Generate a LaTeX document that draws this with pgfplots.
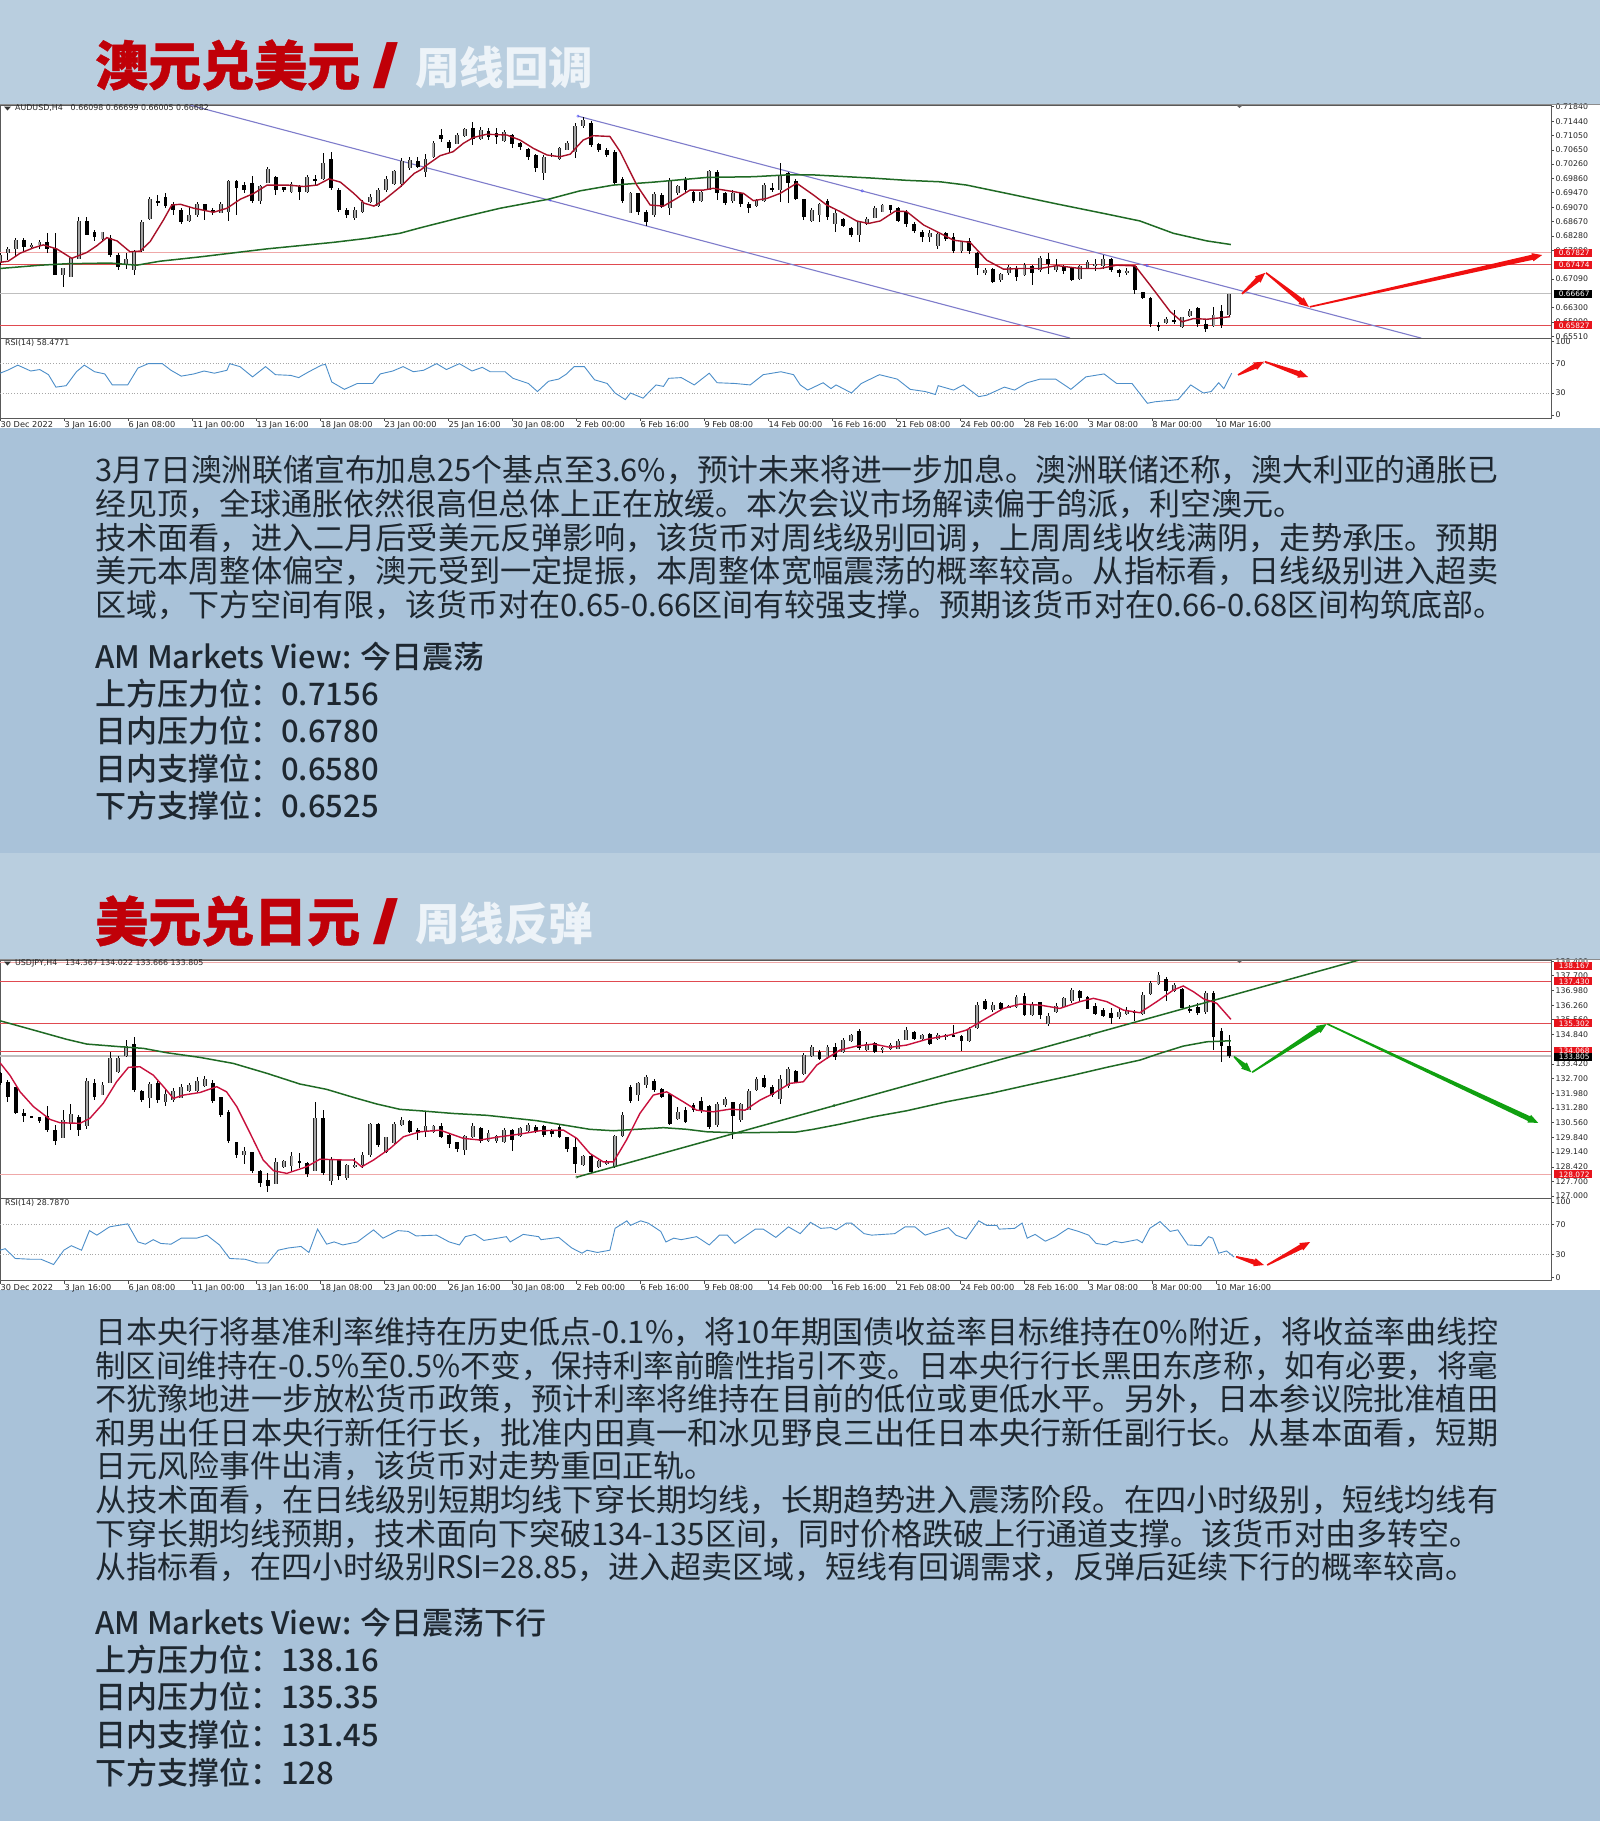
\documentclass[border=0pt]{standalone}
\usepackage{fontspec}
\usepackage{graphicx}
\usepackage{pgfplots}
\usepackage{pgfplotstable}
\pgfplotsset{compat=1.18}
\usetikzlibrary{calc}
\setmainfont{Noto Sans CJK SC}
\newfontfamily\cjkbody{Noto Sans CJK SC}
\IfFontExistsTF{Noto Sans CJK SC Medium}{\newfontfamily\cjkmed{Noto Sans CJK SC Medium}}{\newfontfamily\cjkmed[FakeBold=1.2]{Noto Sans CJK SC}}
\newfontfamily\cjkblack[BoldFeatures={FakeBold=0.8}]{Noto Sans CJK SC}
\newfontfamily\slashf{Liberation Sans}
\newfontfamily\mtfont{DejaVu Sans}
\definecolor{bandA}{HTML}{B9CEDF}
\definecolor{bandB}{HTML}{A9C2D9}
\definecolor{txt}{HTML}{1E2730}
\definecolor{titleRed}{HTML}{C00008}
\definecolor{titleWhite}{HTML}{EDF3F8}
\definecolor{trend}{HTML}{7E7CCB}
\definecolor{maA}{HTML}{A81028}
\definecolor{maB}{HTML}{C8103C}
\definecolor{maG}{HTML}{1F6A24}
\definecolor{hlA}{HTML}{EFA8A8}
\definecolor{hlB}{HTML}{E04A50}
\definecolor{rsiC}{HTML}{4C8EC9}
\definecolor{arR}{HTML}{F01010}
\definecolor{arG}{HTML}{10A010}
\definecolor{boxR}{HTML}{E8141C}

\pgfplotstableread{
i h l o c
0 6780 6749 6757 6775
2 6798 6761 6780 6793
4 6821 6770 6793 6816
6 6821 6784 6816 6797
8 6807 6793 6800 6802
10 6816 6793 6803 6812
12 6835 6780 6812 6793
14 6835 6720 6795 6720
16 6738 6686 6720 6738
18 6766 6715 6715 6766
20 6881 6764 6764 6870
22 6881 6830 6870 6830
24 6844 6815 6840 6825
26 6840 6815 6820 6838
28 6830 6770 6822 6775
30 6780 6733 6775 6742
32 6780 6738 6750 6765
34 6789 6720 6735 6785
36 6872 6784 6785 6865
38 6936 6872 6875 6930
40 6940 6910 6925 6920
42 6945 6905 6935 6910
44 6922 6885 6915 6900
46 6904 6860 6900 6865
48 6908 6867 6870 6885
50 6922 6880 6885 6915
52 6915 6872 6915 6900
54 6904 6885 6900 6895
56 6922 6890 6892 6915
58 6982 6869 6895 6980
60 6982 6885 6980 6960
62 6977 6945 6968 6955
64 6994 6918 6975 6925
66 6968 6915 6925 6965
68 7019 6977 6975 7012
70 6994 6941 6990 6955
72 6964 6948 6962 6955
74 6977 6945 6950 6970
76 6968 6927 6965 6950
78 6996 6945 6948 6990
80 6995 6968 6985 6980
82 7056 6982 6985 7030
84 7060 6954 7040 6960
86 6959 6895 6955 6900
88 6904 6876 6900 6885
90 6908 6872 6878 6900
92 6926 6890 6895 6920
94 6942 6918 6920 6935
96 6959 6908 6910 6955
98 6994 6950 6955 6985
100 7010 6968 6970 7008
102 7042 6964 6970 7035
104 7044 7010 7015 7038
106 7046 7014 7035 7018
108 7055 6991 7005 7040
110 7090 7042 7045 7085
112 7123 7088 7105 7095
114 7092 7060 7088 7070
116 7111 7080 7082 7105
118 7126 7100 7102 7122
120 7143 7078 7125 7095
122 7129 7092 7095 7120
124 7126 7092 7118 7100
126 7125 7080 7112 7100
128 7120 7088 7090 7115
130 7110 7069 7105 7080
132 7088 7065 7085 7072
134 7071 7037 7068 7045
136 7055 7005 7050 7015
138 7051 6982 7000 7045
140 7056 7046 7052 7050
142 7074 7037 7040 7070
144 7090 7065 7066 7085
146 7138 7042 7058 7130
148 7157 7125 7130 7148
150 7145 7074 7140 7078
152 7083 7060 7080 7065
154 7069 7046 7065 7050
156 7065 6968 7060 6975
158 6991 6918 6985 6925
160 6948 6890 6890 6945
162 6945 6885 6945 6895
164 6899 6856 6893 6865
166 6948 6880 6885 6942
168 6945 6904 6940 6908
170 6987 6885 6905 6980
172 6968 6940 6945 6965
174 6991 6950 6985 6955
176 6954 6918 6950 6925
178 6954 6922 6925 6950
180 7010 6954 6955 7008
182 7010 6927 7005 6945
184 6950 6913 6945 6920
186 6954 6918 6925 6945
188 6945 6908 6945 6915
190 6922 6890 6915 6905
192 6931 6908 6910 6928
194 6973 6922 6925 6968
196 6973 6948 6960 6955
198 7028 6922 6955 6995
200 7005 6920 7000 6975
202 6985 6927 6980 6930
204 6931 6872 6930 6880
206 6904 6865 6870 6900
208 6918 6867 6885 6915
210 6931 6872 6925 6880
212 6899 6840 6860 6890
214 6876 6853 6875 6855
216 6853 6826 6850 6830
218 6869 6810 6830 6865
220 6881 6858 6860 6875
222 6911 6876 6878 6905
224 6917 6893 6895 6912
226 6913 6890 6912 6900
228 6908 6865 6905 6870
230 6899 6853 6895 6860
232 6867 6835 6860 6840
234 6844 6810 6840 6825
236 6844 6812 6825 6835
238 6835 6793 6800 6832
240 6840 6815 6835 6820
242 6835 6780 6825 6785
244 6812 6780 6785 6810
246 6821 6777 6815 6785
248 6784 6720 6780 6740
250 6740 6720 6725 6735
252 6740 6697 6738 6700
254 6725 6701 6705 6722
256 6747 6721 6725 6742
258 6745 6703 6740 6715
260 6752 6718 6720 6748
262 6749 6692 6745 6725
264 6773 6729 6735 6768
266 6780 6724 6765 6750
268 6764 6727 6735 6745
270 6747 6724 6745 6730
272 6741 6704 6740 6705
274 6747 6706 6708 6745
276 6761 6738 6740 6757
278 6764 6731 6745 6750
280 6775 6738 6745 6765
282 6768 6729 6765 6735
284 6738 6715 6735 6725
286 6738 6720 6725 6730
288 6747 6669 6745 6680
290 6674 6655 6672 6657
292 6660 6577 6658 6585
294 6591 6565 6583 6578
296 6605 6586 6588 6600
298 6623 6584 6595 6590
300 6605 6574 6578 6603
302 6626 6605 6607 6622
304 6632 6577 6628 6585
306 6596 6563 6585 6570
308 6632 6577 6580 6610
310 6637 6574 6620 6582
312 6669 6607 6610 6667
}\audc

\pgfplotstableread{
i h l o c
0 133.04 132.39 132.96 132.47
2 132.63 131.58 132.55 131.82
4 132.31 130.98 132.31 131.01
6 131.25 130.61 131.01 130.90
8 130.90 130.77 130.88 130.82
10 130.85 130.53 130.82 130.66
12 131.37 130.12 130.90 130.20
14 130.44 129.47 130.20 129.66
16 131.17 130.04 129.80 130.69
18 131.46 130.20 130.50 131.00
20 130.93 129.91 130.85 130.20
22 132.71 130.28 130.40 132.60
24 132.66 131.66 132.50 131.82
26 132.55 131.90 131.90 132.40
28 134.01 132.47 132.50 133.70
30 133.80 132.96 133.00 133.70
32 134.57 133.77 133.80 134.30
34 134.74 132.07 134.40 132.15
36 132.15 131.58 132.10 131.65
38 132.55 131.30 131.75 132.45
40 132.60 131.50 132.50 131.65
42 132.15 131.37 131.55 131.95
44 132.23 131.58 131.65 132.10
46 132.44 131.74 131.75 132.30
48 132.47 132.07 132.10 132.40
50 132.76 132.07 132.10 132.60
52 132.83 132.31 132.35 132.70
54 132.63 131.53 132.50 131.60
56 131.82 130.85 131.80 130.95
58 131.17 129.56 131.10 129.65
60 129.64 128.83 129.60 128.98
62 129.39 128.58 129.00 129.20
64 129.15 128.10 129.15 128.20
66 128.26 127.45 128.20 127.65
68 128.10 127.21 127.80 127.50
70 128.83 127.58 127.60 128.65
72 128.75 128.34 128.40 128.70
74 129.12 128.18 128.45 128.95
76 129.07 128.34 128.70 128.60
78 128.66 127.94 128.60 128.05
80 131.58 128.34 128.20 130.80
82 131.17 128.02 130.80 128.10
84 128.91 127.53 127.75 128.80
86 128.80 127.77 128.75 127.95
88 128.58 127.77 127.90 128.50
90 128.83 128.34 128.40 128.50
92 129.15 128.34 128.50 129.00
94 130.56 128.91 129.00 130.50
96 130.56 129.40 130.50 129.50
98 129.88 129.07 129.15 129.85
100 130.60 129.55 129.60 130.50
102 130.85 130.40 130.45 130.70
104 130.69 130.04 130.65 130.10
106 130.28 129.70 130.20 130.05
108 131.09 129.88 130.15 130.40
110 130.44 130.04 130.10 130.40
112 130.53 129.80 130.40 129.85
114 130.04 129.31 129.95 129.55
116 129.64 129.15 129.60 129.30
118 129.96 129.00 129.25 129.90
120 130.56 129.80 129.85 130.40
122 130.36 129.56 130.30 129.65
124 130.20 129.60 129.65 130.05
126 129.96 129.60 129.65 129.90
128 130.28 129.56 129.60 130.20
130 130.24 129.20 130.20 129.70
132 130.36 129.88 129.90 130.30
134 130.53 130.07 130.15 130.45
136 130.44 130.04 130.35 130.15
138 130.44 129.88 130.40 129.95
140 130.24 129.88 130.20 130.00
142 130.44 129.80 130.35 129.85
144 129.88 129.15 129.85 129.30
146 129.80 128.13 129.40 128.55
148 128.99 128.46 128.50 128.95
150 128.99 128.10 128.95 128.15
152 128.75 128.34 128.40 128.70
154 128.75 128.50 128.55 128.65
156 129.96 128.34 128.40 129.90
158 131.09 129.88 129.90 130.95
160 132.39 131.50 132.30 131.60
162 132.55 131.63 131.90 132.50
164 132.87 132.23 132.40 132.80
166 132.66 132.05 132.60 132.15
168 132.25 131.74 132.20 131.80
170 131.98 130.45 131.95 130.50
172 131.34 130.69 130.75 131.10
174 131.34 130.53 131.20 130.60
176 131.50 131.09 131.40 131.20
178 131.79 131.01 131.60 131.15
180 131.42 130.28 131.35 130.35
182 131.58 130.36 130.45 131.45
184 131.82 131.34 131.40 131.70
186 131.58 129.75 131.55 130.90
188 131.50 130.61 130.70 131.45
190 132.18 131.17 131.20 132.10
192 132.79 132.10 132.15 132.70
194 132.87 132.23 132.75 132.30
196 132.39 131.82 132.30 131.90
198 132.87 131.46 131.70 132.70
200 133.28 132.23 132.35 133.15
202 133.12 132.50 133.05 132.55
204 133.93 132.87 132.95 133.85
206 134.33 133.77 133.80 134.25
208 134.09 133.60 134.00 133.65
210 134.33 133.63 133.70 134.25
212 134.41 133.60 134.25 133.75
214 134.65 133.93 134.00 134.60
216 134.87 134.49 134.55 134.80
218 135.09 134.09 135.00 134.20
220 134.49 134.05 134.10 134.40
222 134.49 133.93 134.45 134.00
224 134.25 133.93 134.10 134.20
226 134.41 134.09 134.12 134.35
228 134.65 134.12 134.15 134.55
230 135.19 134.57 134.60 135.05
232 135.03 134.57 134.98 134.65
234 134.87 134.57 134.65 134.80
236 134.93 134.33 134.85 134.40
238 134.93 134.57 134.65 134.80
240 134.87 134.57 134.70 134.80
242 135.30 134.70 134.80 134.75
244 134.82 134.05 134.75 134.55
246 135.22 134.49 134.55 135.10
248 136.44 135.09 135.15 136.30
250 136.55 136.03 136.45 136.10
252 136.44 135.95 136.05 136.30
254 136.44 136.03 136.35 136.10
256 136.27 136.11 136.13 136.24
258 136.76 136.11 136.20 136.65
260 136.87 135.74 136.70 135.80
262 136.44 135.74 135.80 136.30
264 136.44 135.58 136.40 135.80
266 135.87 135.25 135.35 135.75
268 136.38 135.90 135.95 136.25
270 136.65 136.15 136.20 136.60
272 137.08 136.38 136.45 137.00
274 137.00 136.48 136.95 136.60
276 136.70 136.06 136.65 136.10
278 136.38 135.80 136.25 135.85
280 136.11 135.68 136.05 135.75
282 136.11 135.35 135.90 135.65
284 136.11 135.58 135.70 135.95
286 136.16 135.78 135.85 136.05
288 136.03 135.51 135.95 135.90
290 136.92 135.78 135.85 136.75
292 137.45 136.76 136.80 137.35
294 137.89 137.23 137.30 137.75
296 137.62 136.48 137.55 136.95
298 137.33 136.92 136.98 137.25
300 137.08 136.11 137.05 136.15
302 136.27 135.90 136.10 136.00
304 136.35 135.78 136.20 135.90
306 136.97 135.84 135.95 136.85
308 136.97 134.09 136.85 134.70
310 135.14 133.53 135.00 134.30
312 134.82 133.68 134.30 133.80
}\jpyc

\newcommand\candles[1]{%
 \addplot[draw=none,mark=none,forget plot,error bars/.cd,y dir=both,y explicit,error mark=none,error bar style={line width=.9pt,black}]
   table[x=i,y expr={(\thisrow{h}+\thisrow{l})/2},y error expr={(\thisrow{h}-\thisrow{l})/2}]{#1};
 \addplot[draw=none,mark=none,forget plot,error bars/.cd,y dir=both,y explicit,error mark=none,error bar style={line width=3.8pt,black!85}]
   table[x=i,y expr={(\thisrow{o}+\thisrow{c})/2},y error expr={\thisrow{c}>=\thisrow{o}?(\thisrow{c}-\thisrow{o})/2:0}]{#1};
 \addplot[draw=none,mark=none,forget plot,error bars/.cd,y dir=both,y explicit,error mark=none,error bar style={line width=1.9pt,black!35}]
   table[x=i,y expr={(\thisrow{o}+\thisrow{c})/2},y error expr={\thisrow{c}>=\thisrow{o}?(\thisrow{c}-\thisrow{o})/2:0}]{#1};
 \addplot[draw=none,mark=none,forget plot,error bars/.cd,y dir=both,y explicit,error mark=none,error bar style={line width=3.8pt,black}]
   table[x=i,y expr={(\thisrow{o}+\thisrow{c})/2},y error expr={\thisrow{c}<\thisrow{o}?(\thisrow{o}-\thisrow{c})/2:0}]{#1};
}
% tapered annotation arrow between two axis coordinates
\newcommand\tap[5]{%
 \coordinate (A) at (axis cs:#2,#3);\coordinate (B) at (axis cs:#4,#5);
 \coordinate (C) at ($(B)!10pt!(A)$);
 \fill[#1] ($(A)!.8pt!90:(B)$) -- ($(C)!2.6pt!90:(B)$) -- ($(C)!4.2pt!90:(B)$) -- (B) -- ($(C)!4.2pt!-90:(B)$) -- ($(C)!2.6pt!-90:(B)$) -- ($(A)!.8pt!-90:(B)$) -- cycle;}

\pgfplotsset{
 mt/.style={scale only axis,width=1551pt,xmin=0,xmax=393.65,
   clip mode=individual,
   axis line style={draw=black!65,line width=.9pt},
   tick style={draw=black!70,line width=.5pt},
   tick align=outside,major tick length=3pt,
   ytick pos=right,yticklabel pos=right,
   yticklabel style={font=\mtfont\fontsize{7.8}{8}\selectfont,text=black!85,inner sep=0pt,xshift=1.5pt},
   xticklabel style={font=\mtfont\fontsize{8.2}{9}\selectfont,text=black!85,anchor=north west,inner sep=0pt,xshift=.5pt,yshift=-.5pt},
 },
 noxt/.style={xtick=\empty},
 datet/.style={xtick pos=bottom,xtick={0,16.24,32.48,48.72,64.96,81.2,97.44,113.68,129.92,146.16,162.4,178.64,194.88,211.12,227.36,243.6,259.84,276.08,292.32,308.56},
  xticklabels={30 Dec 2022,3 Jan 16:00,6 Jan 08:00,11 Jan 00:00,13 Jan 16:00,18 Jan 08:00,23 Jan 00:00,#1,30 Jan 08:00,2 Feb 00:00,6 Feb 16:00,9 Feb 08:00,14 Feb 00:00,16 Feb 16:00,21 Feb 08:00,24 Feb 00:00,28 Feb 16:00,3 Mar 08:00,8 Mar 00:00,10 Mar 16:00}},
}
\newcommand\hl[4]{\addplot[draw=#3,line width=#4,forget plot] coordinates {(0,#1) (393.65,#1)};}
\newcommand\tl[2]{\node[anchor=west,inner sep=0pt] at (95,-#1) {\resizebox{1403pt}{\height}{\cjkbody\fontsize{31}{34}\selectfont\color{txt}#2}};}
\newcommand\tn[2]{\node[anchor=west,inner sep=0pt] at (95,-#1) {\cjkbody\fontsize{31}{34}\selectfont\color{txt}#2};}
\newcommand\tb[2]{\node[anchor=west,inner sep=0pt] at (95,-#1) {\cjkmed\fontsize{31}{34}\selectfont\color{txt}#2};}
\newcommand\bx[3]{\node[anchor=west,fill=#3,text=white,inner sep=0pt,minimum width=38pt,minimum height=8pt,font=\mtfont\fontsize{7.4}{8}\selectfont] at (1554,-#1) {\hspace*{2pt}#2};}
\newcommand\capt[3]{\node[anchor=west,inner sep=0pt,text=black!85,font=\mtfont\fontsize{7.9}{8}\selectfont] at (#1,-#2) {#3};}

\begin{document}
\begin{tikzpicture}[x=1pt,y=1pt]
\path[use as bounding box] (0,0) rectangle (1600,-1821);
\fill[bandA] (0,0) rectangle (1600,-104);
\fill[bandB] (0,-428) rectangle (1600,-853);
\fill[bandA] (0,-853) rectangle (1600,-959);
\fill[bandB] (0,-1290) rectangle (1600,-1821);
\fill[white] (0,-104) rectangle (1600,-428);
\fill[white] (0,-959) rectangle (1600,-1290);

% ---------- AUDUSD price ----------
\begin{axis}[mt,noxt,at={(0pt,-338pt)},anchor=south west,height=233pt,ymin=6546.3,ymax=7188.7,
 ytick={7184,7144,7105,7065,7026,6986,6947,6907,6867,6828,6788,6709,6630,6590,6551},
 yticklabels={0.71840,0.71440,0.71050,0.70650,0.70260,0.69860,0.69470,0.69070,0.68670,0.68280,0.67880,0.67090,0.66300,0.65900,0.65510}]
\hl{6782}{}{hlA}{.9pt}
\hl{6748}{}{hlB}{.9pt}
\hl{6582}{}{hlB}{.9pt}
\hl{6669}{}{black!25}{1.3pt}
\addplot[trend,line width=1.1pt,forget plot] coordinates {(146.7,7158) (360.7,6546)};
\addplot[trend,line width=1.1pt,forget plot] coordinates {(48,7189) (271.6,6546)};
\addplot[blue!70!white,only marks,mark=o,mark size=1.3pt,forget plot] coordinates {(146.7,7158) (139.6,6927) (218.8,6952) (291.1,6746)};
\candles{\audc}
\addplot[maG,line width=1.5pt,forget plot] coordinates {(0,6738)(10.2,6747)(16.9,6751)(27.9,6753)(34.7,6747)(40.6,6758)(50.8,6770)(67.7,6792)(84.6,6810)(93.1,6821)(101.5,6835)(106.6,6850)(116.8,6878)(126.9,6904)(139.2,6929)(147.2,6952)(155.7,6968)(165.8,6976)(179.4,6989)(191.2,6991)(199.7,6996)(206.4,6996)(213.2,6992)(221.7,6987)(230.1,6981)(238.6,6977)(245.3,6968)(255.5,6945)(268.2,6916)(280.9,6888)(289.3,6869)(297.8,6835)(306.3,6814)(312.4,6804)};
\addplot[maA,line width=1.4pt,forget plot] coordinates {(0,6755)(2.1,6758)(5.1,6780)(8.5,6795)(11,6803)(14.4,6792)(18.2,6766)(22,6782)(24.6,6801)(27.1,6823)(29.7,6814)(33,6784)(35.6,6786)(38.1,6812)(41.5,6872)(43.6,6913)(45.8,6915)(49.2,6904)(54.2,6893)(57.6,6904)(61,6929)(64.4,6945)(67.8,6968)(72.9,6968)(77.1,6964)(80.5,6968)(83.5,6985)(86.4,6976)(89.8,6945)(92.4,6918)(94.9,6910)(97.5,6927)(101.7,6964)(105.1,7000)(106.8,7010)(108.3,7023)(111.7,7049)(115,7060)(117.6,7083)(120.1,7099)(123.5,7108)(128.6,7106)(132,7092)(135.4,7069)(138.8,7051)(142.1,7046)(144.7,7053)(148,7092)(150.6,7104)(154.8,7102)(157.4,7060)(161.6,6968)(165,6913)(168.4,6910)(171.7,6931)(175.1,6954)(178.5,6954)(181,6959)(186.1,6950)(188.7,6945)(191.2,6925)(194.6,6931)(198,6945)(202.2,6973)(206.4,6941)(209.8,6913)(213.2,6895)(217.4,6869)(220.4,6862)(223.4,6869)(227.2,6896)(230.1,6895)(234.4,6858)(238.6,6835)(242,6816)(246.2,6810)(250.4,6761)(254.7,6736)(258.9,6738)(264,6738)(268.2,6746)(274.1,6738)(279.2,6738)(283.4,6747)(288.1,6745)(291.9,6692)(297,6619)(300,6591)(302.9,6600)(306.3,6598)(312.2,6605)};
\tap{arR}{315.2}{6668}{321.1}{6726}
\tap{arR}{321.3}{6726}{332.2}{6632}
\tap{arR}{332.4}{6632}{391.4}{6775}
\end{axis}

% ---------- AUDUSD RSI ----------
\begin{axis}[mt,datet={25 Jan 16:00},at={(0pt,-418pt)},anchor=south west,height=80pt,ymin=-4.1,ymax=105,
 ytick={0,30,70,100},yticklabels={0,30,70,100}]
\addplot[black!35,dotted,line width=.8pt,forget plot] coordinates {(0,70)(312,70)(393,70)};
\addplot[black!35,dotted,line width=.8pt,forget plot] coordinates {(0,30)(312,30)(393,30)};
\addplot[rsiC,line width=.9pt,forget plot] coordinates {(0,57)(1.9,61)(4.5,68)(7.8,60)(10.1,62)(12.3,55)(14.2,38)(16.8,40)(19.4,59)(21.4,68)(24,59)(26.6,56)(28.5,41)(32.4,41)(35,64)(37.6,70)(41.2,70)(43.4,61)(46,53)(49.2,56)(51.8,60)(54.4,57)(57.6,61)(58.3,70)(60.9,66)(64.1,52)(67.4,66)(69.9,55)(73.8,54)(75.8,51)(78.4,59)(81.6,68)(82.6,69)(84.2,45)(87.4,35)(90.7,43)(94.6,43)(96.5,56)(99.7,60)(102.3,66)(104.9,59)(107.5,61)(110.8,70)(113.3,62)(116.6,70)(119.8,60)(122.4,65)(124.4,59)(128.2,59)(130.2,50)(134.1,43)(136.4,32)(139.2,46)(141.8,49)(143.8,56)(145.7,66)(148.3,66)(150.9,48)(154.1,43)(156.1,30)(158.7,21)(160,30)(163.2,23)(166.5,41)(168.4,39)(169.7,50)(172.9,51)(176.2,41)(180,57)(182,44)(186.5,43)(190.4,41)(193.7,55)(198.2,59)(201.4,55)(203.1,41)(205,34)(208.9,44)(210.9,36)(212.2,41)(216.1,30)(218.6,43)(223.2,55)(227.7,49)(231,35)(234.8,32)(237.4,28)(238.1,40)(242,34)(244.5,41)(248.4,25)(250.4,27)(254.9,38)(257.5,34)(260.7,44)(264,49)(267.9,49)(271.8,35)(275.6,52)(280.2,56)(283.4,43)(287.3,43)(291.2,16)(293.1,18)(299,21)(302.2,41)(305.4,30)(307.4,32)(309.3,44)(310.6,36)(312.6,57)};
\tap{arR}{314.2}{54.6}{320.8}{72.7}
\tap{arR}{321}{72.7}{332}{51.8}
\end{axis}

% ---------- USDJPY price ----------
\begin{axis}[mt,noxt,at={(0pt,-1198.3pt)},anchor=south west,height=238.3pt,ymin=126.89,ymax=138.46,
 ytick={127,127.7,128.42,129.14,129.84,130.56,131.28,131.98,132.7,133.42,134.84,135.56,136.26,136.98,137.7,138.4},
 yticklabels={127.000,127.700,128.420,129.140,129.840,130.560,131.280,131.980,132.700,133.420,134.840,135.560,136.260,136.980,137.700,138.400}]
\hl{138.33}{}{hlA}{.9pt}
\hl{137.42}{}{hlB}{.9pt}
\hl{135.38}{}{hlB}{.9pt}
\hl{134.04}{}{hlB}{.9pt}
\hl{128.05}{}{hlA}{.9pt}
\hl{133.80}{}{black!25}{1.3pt}
\candles{\jpyc}
\addplot[maG,line width=1.5pt,forget plot] coordinates {(146.4,127.92) (344.9,138.46)};
\addplot[maG,only marks,mark=o,mark size=1.2pt,forget plot] coordinates {(146.4,127.92) (211.7,131.4) (276.6,134.8)};
\addplot[maG,line width=1.5pt,forget plot] coordinates {(0,135.51)(8.5,135.06)(16.9,134.61)(22,134.38)(30.5,134.25)(36.4,134.17)(42.3,133.96)(50.8,133.73)(59.2,133.44)(67.7,132.96)(76.1,132.44)(82.9,132.18)(89.7,131.79)(95.6,131.47)(101.5,131.21)(106.6,131.14)(115,131.01)(123.5,130.92)(136.2,130.66)(143,130.45)(149.7,130.24)(155.7,130.17)(161.6,130.24)(168.4,130.32)(174.3,130.24)(179.4,130.12)(187,130.07)(202.2,130.11)(206.4,130.24)(213.2,130.49)(221.7,130.85)(230.1,131.14)(240.3,131.58)(251.3,131.98)(259.7,132.34)(272.4,132.87)(280.9,133.25)(289.3,133.60)(294.4,133.93)(300.3,134.28)(306.3,134.49)(312.4,134.54)};
\addplot[maB,line width=1.4pt,forget plot] coordinates {(0,133.47)(2.5,132.87)(5.1,132.06)(8.5,131.34)(12.7,130.72)(15.2,130.56)(20.3,130.53)(22.8,130.77)(26.2,131.50)(29.6,132.55)(32.6,133.25)(35.5,133.28)(38.9,132.87)(41.5,132.31)(44,131.74)(46.5,131.90)(50.8,132.03)(55,132.31)(57.5,132.06)(60.1,131.34)(63.5,130.04)(66.8,128.75)(69.4,128.23)(72.8,128.10)(77.8,128.42)(81.2,128.79)(87.1,128.75)(89.7,128.75)(91.8,128.42)(94.8,128.75)(99,129.31)(102.4,129.88)(106.6,130.12)(111.7,130.20)(117.6,129.80)(121.8,129.72)(126.9,129.88)(132,130.01)(137,130.17)(143,130.20)(146.4,129.80)(149.7,129.07)(153.1,128.66)(155.7,128.66)(159,129.72)(162.4,131.01)(165.8,131.90)(169.2,132.06)(173.4,131.58)(176.8,131.17)(181,131.09)(185.3,131.22)(189.1,131.17)(192.9,131.66)(196.3,131.98)(200.5,132.47)(203.9,132.55)(207.3,133.36)(209.8,133.68)(213.2,134.09)(217.4,134.28)(221.7,134.38)(225.9,134.22)(230.1,134.33)(235.2,134.61)(241.1,134.82)(245.3,135.06)(249.6,135.55)(254.7,136.11)(258.9,136.32)(264,136.27)(269,136.11)(274.1,136.44)(277.5,136.60)(280.9,136.44)(285.1,136.03)(289.3,135.90)(293.6,136.44)(297.8,137.00)(300.3,137.20)(302.9,136.92)(305.5,136.57)(308.8,136.36)(312.4,135.58)};
\tap{arG}{313.2}{133.77}{317.6}{133.01}
\tap{arG}{317.8}{133.01}{336.7}{135.35}
\tap{arG}{336.9}{135.35}{390.4}{130.55}
\end{axis}

% ---------- USDJPY RSI ----------
\begin{axis}[mt,datet={26 Jan 16:00},at={(0pt,-1280.7pt)},anchor=south west,height=82.4pt,ymin=-4.5,ymax=104.9,
 ytick={0,30,70,100},yticklabels={0,30,70,100}]
\addplot[black!35,dotted,line width=.8pt,forget plot] coordinates {(0,70)(312,70)(393,70)};
\addplot[black!35,dotted,line width=.8pt,forget plot] coordinates {(0,30)(312,30)(393,30)};
\addplot[rsiC,line width=.9pt,forget plot] coordinates {(0,36)(1.3,38)(3.9,25)(7.8,24)(10.4,24)(13.6,17)(16.2,36)(18.1,42)(20.7,36)(22.7,62)(24.6,56)(27.8,67)(32.4,71)(35,47)(36.9,44)(38.9,50)(40.8,45)(43.4,44)(46,52)(49.9,52)(52.5,56)(55.7,43)(58.3,25)(62.2,24)(65.4,19)(68,19)(70.6,36)(73.2,39)(76.4,41)(78.4,33)(80.6,64)(82.9,44)(84.8,47)(87,43)(90.7,47)(94.8,63)(97.2,52)(101,62)(103.6,61)(105.6,55)(110.8,56)(114,47)(116.6,43)(118.1,54)(120.5,57)(122.8,49)(126.3,52)(128.5,54)(129.5,47)(132.8,57)(136.7,54)(137.3,50)(141.8,53)(145.1,39)(147.7,32)(149,36)(151.6,33)(154.8,36)(156.1,65)(159.1,75)(160,69)(162.6,75)(164.5,72)(167.7,61)(169,47)(171,52)(172.9,50)(176.8,54)(180,43)(182.6,56)(184.6,56)(186.5,45)(191.7,64)(193.7,64)(196.9,53)(200.1,67)(203.1,58)(205.7,73)(208.3,65)(210.9,66)(212.2,63)(214.8,72)(216.1,72)(219.3,58)(221.2,56)(227.1,58)(229.7,67)(232.2,67)(234.8,56)(240.7,66)(242.6,56)(245.2,51)(248.4,75)(250.4,69)(253,69)(253.6,64)(257.5,65)(259.4,72)(260.7,52)(262.7,57)(265.3,48)(267.9,54)(271.1,65)(273.7,61)(276.3,56)(278.2,45)(280.8,43)(282.8,48)(284.7,46)(288.6,50)(289.9,46)(291.8,65)(294.4,74)(297,61)(298.9,63)(301.5,43)(304.8,42)(306.7,54)(307.8,52)(309.3,32)(311.3,35)(313.2,27)};
\tap{arR}{313.7}{27.3}{320.8}{16.3}
\tap{arR}{321.6}{16.3}{332.5}{46.9}
\end{axis}

\draw[black!45,line width=1.6pt] (0,-104.5) -- (1600,-104.5);
\draw[black!45,line width=1.6pt] (0,-959.5) -- (1600,-959.5);

% chart captions
\capt{15}{108.5}{AUDUSD,H4\quad 0.66098 0.66699 0.66005 0.66682}
\capt{5}{343}{RSI(14) 58.4771}
\capt{15}{963.5}{USDJPY,H4\quad 134.367 134.022 133.666 133.805}
\capt{5}{1203}{RSI(14) 28.7870}
\fill[black!80] (4,-106.5) -- (11,-106.5) -- (7.5,-110.5) -- cycle;
\fill[black!80] (4,-961.5) -- (11,-961.5) -- (7.5,-965.5) -- cycle;
\fill[black!60] (1236,-105) -- (1243,-105) -- (1239.5,-108) -- cycle;
\fill[black!60] (1236,-960) -- (1243,-960) -- (1239.5,-963) -- cycle;

% price boxes
\bx{252.7}{0.67827}{boxR}
\bx{265}{0.67474}{boxR}
\bx{293.7}{0.66667}{black}
\bx{325.3}{0.65827}{boxR}
\bx{966}{138.167}{boxR}
\bx{981.3}{137.430}{boxR}
\bx{1023.3}{135.302}{boxR}
\bx{1051}{134.068}{boxR}
\bx{1056.5}{133.805}{black}
\bx{1174.3}{128.072}{boxR}

% titles
\node[anchor=west,inner sep=0pt,text=titleRed] at (95,-65) {\cjkblack\bfseries\fontsize{53}{60}\selectfont 澳元兑美元};
\node[inner sep=0pt,text=titleRed,xscale=1.55] at (386,-66) {\slashf\bfseries\fontsize{62}{64}\selectfont /};
\node[anchor=west,inner sep=0pt,text=titleWhite] at (415,-68) {\cjkbody\bfseries\fontsize{44.5}{50}\selectfont 周线回调};
\node[anchor=west,inner sep=0pt,text=titleRed] at (95,-921) {\cjkblack\bfseries\fontsize{53}{60}\selectfont 美元兑日元};
\node[inner sep=0pt,text=titleRed,xscale=1.55] at (386,-922) {\slashf\bfseries\fontsize{62}{64}\selectfont /};
\node[anchor=west,inner sep=0pt,text=titleWhite] at (415,-924) {\cjkbody\bfseries\fontsize{44.5}{50}\selectfont 周线反弹};

% first text block
\tl{470}{3月7日澳洲联储宣布加息25个基点至3.6\%，预计未来将进一步加息。澳洲联储还称，澳大利亚的通胀已}
\tn{504}{经见顶，全球通胀依然很高但总体上正在放缓。本次会议市场解读偏于鸽派，利空澳元。}
\tl{538}{技术面看，进入二月后受美元反弹影响，该货币对周线级别回调，上周周线收线满阴，走势承压。预期}
\tl{571}{美元本周整体偏空，澳元受到一定提振，本周整体宽幅震荡的概率较高。从指标看，日线级别进入超卖}
\tn{605}{区域，下方空间有限，该货币对在0.65-0.66区间有较强支撑。预期该货币对在0.66-0.68区间构筑底部。}
\tb{657}{AM Markets View: 今日震荡}
\tb{694}{上方压力位：0.7156}
\tb{731}{日内压力位：0.6780}
\tb{769}{日内支撑位：0.6580}
\tb{806}{下方支撑位：0.6525}

% second text block
\tl{1332}{日本央行将基准利率维持在历史低点-0.1\%，将10年期国债收益率目标维持在0\%附近，将收益率曲线控}
\tl{1366}{制区间维持在-0.5\%至0.5\%不变，保持利率前瞻性指引不变。日本央行行长黑田东彦称，如有必要，将毫}
\tl{1399}{不犹豫地进一步放松货币政策，预计利率将维持在目前的低位或更低水平。另外，日本参议院批准植田}
\tl{1433}{和男出任日本央行新任行长，批准内田真一和冰见野良三出任日本央行新任副行长。从基本面看，短期}
\tn{1466}{日元风险事件出清，该货币对走势重回正轨。}
\tl{1500}{从技术面看，在日线级别短期均线下穿长期均线，长期趋势进入震荡阶段。在四小时级别，短线均线有}
\tn{1534}{下穿长期均线预期，技术面向下突破134-135区间，同时价格跌破上行通道支撑。该货币对由多转空。}
\tn{1567}{从指标看，在四小时级别RSI=28.85，进入超卖区域，短线有回调需求，反弹后延续下行的概率较高。}
\tb{1623}{AM Markets View: 今日震荡下行}
\tb{1660}{上方压力位：138.16}
\tb{1697}{日内压力位：135.35}
\tb{1735}{日内支撑位：131.45}
\tb{1773}{下方支撑位：128}
\end{tikzpicture}
\end{document}
